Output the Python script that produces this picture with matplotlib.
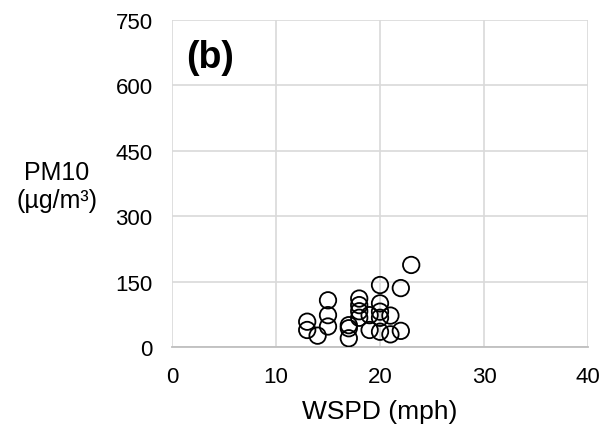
import matplotlib
matplotlib.use("Agg")
import matplotlib.pyplot as plt

plt.rcParams['font.family'] = ['Liberation Sans', 'DejaVu Sans']

# wind speed (mph) vs PM10 (ug/m3)
wspd = [13, 13, 14, 15, 15, 15, 17, 17, 17, 18, 18, 18, 18,
        19, 19, 20, 20, 20, 20, 20, 21, 21, 22, 22, 23]
pm10 = [58, 39, 26, 107, 73, 47, 50, 43, 20, 111, 96, 82, 67,
        73, 39, 142, 100, 81, 67, 35, 72, 29, 37, 135, 188]

x_ticks = [0, 10, 20, 30, 40]
y_ticks = [0, 150, 300, 450, 600, 750]

fig = plt.figure(figsize=(6.03, 4.27), dpi=100)
ax = fig.add_axes([0.2852, 0.185, 0.690, 0.7665])

ax.scatter(wspd, pm10, s=140, facecolors='none', edgecolors='black',
           linewidths=1.3, zorder=3)

ax.set_xlim(0, 40)
ax.set_ylim(0, 750)
ax.set_xticks(x_ticks)
ax.set_yticks(y_ticks)
ax.grid(True, color='#d9d9d9', linewidth=1.2)
ax.set_axisbelow(True)
for side in ['top', 'right', 'left']:
    ax.spines[side].set_visible(False)
ax.spines['bottom'].set_color('#bfbfbf')
ax.spines['bottom'].set_linewidth(1.3)
ax.tick_params(length=0, labelsize=16)
ax.tick_params(axis='x', pad=14)
ax.tick_params(axis='y', pad=14)

ax.set_xlabel('WSPD (mph)', fontsize=19, labelpad=8)
fig.text(0.0945, 0.562, 'PM10\n(µg/m³)', fontsize=18, ha='center',
         va='center', linespacing=1.2)
ax.text(14 / 416, 1 - 19 / 327, '(b)', transform=ax.transAxes, fontsize=27,
        fontweight='bold', va='top', ha='left')

fig.savefig('out.png', dpi=100)
